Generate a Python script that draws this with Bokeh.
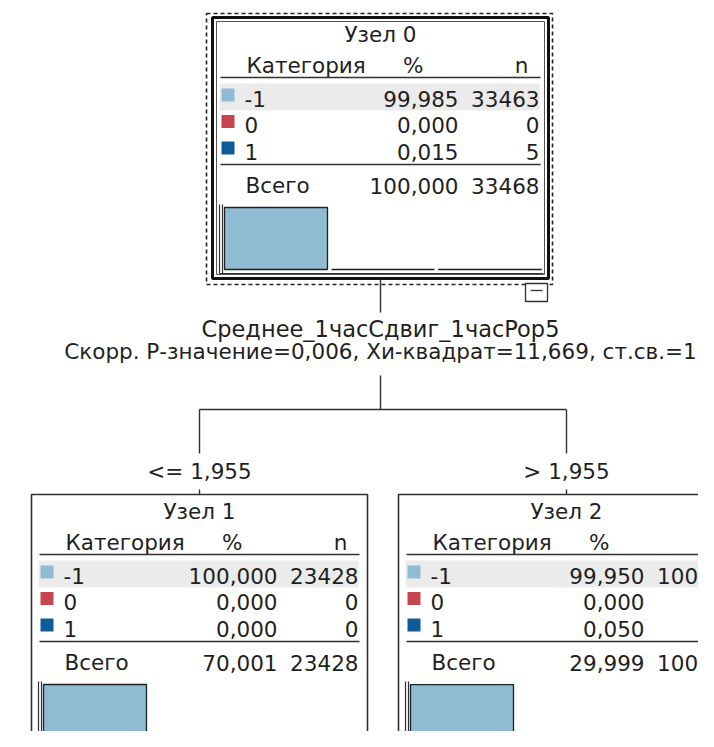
from bokeh.plotting import figure
from bokeh.models import Range1d, ColumnDataSource
from bokeh.embed import file_html
from bokeh.resources import INLINE
from bokeh.core.properties import value

# ---------------- data ----------------
categories = ["-1", "0", "1"]
category_colors = ["#8fbbd3", "#c4464e", "#0e5b97"]

node_names = ["Узел 0", "Узел 1", "Узел 2"]
node0_pct = [99.985, 0.000, 0.015]
node0_n = [33463, 0, 5]
node1_pct = [100.000, 0.000, 0.000]
node1_n = [23428, 0, 0]
node2_pct = [99.950, 0.000, 0.050]
node2_n = [10035, 0, 5]
total_pct = [100.000, 70.001, 29.999]
total_n = [33468, 23428, 10040]

header_labels = ["Категория", "%", "n"]
total_label = "Всего"
split_variable = "Среднее_1часСдвиг_1часPop5"
split_stats = "Скорр. Р-значение=0,006, Хи-квадрат=11,669, ст.св.=1"
split_labels = ["<= 1,955", "> 1,955"]

node_pcts = [node0_pct, node1_pct, node2_pct]
node_ns = [node0_n, node1_n, node2_n]

# ---------------- layout ----------------
FONT = value("DejaVu Sans")
FS = value("21.5px")
TXT = "#1f1f1f"
LINE = "#303030"
node_left = [212, 31, 398]
node_top = [17, 494, 494]
NW, NH = 336, 261
BAR_H = 62
SLOT = 107


def fmt(v):
    return f"{v:.3f}".replace(".", ",")


p = figure(width=698, height=731, output_backend="svg", toolbar_location=None,
           x_range=Range1d(0, 698), y_range=Range1d(731, 0),
           min_border=0, outline_line_color=None)
p.axis.visible = False
p.grid.visible = False
p.background_fill_color = "white"
p.border_fill_color = "white"


def add_text(xs, ys, texts, align="left", size=FS):
    src = ColumnDataSource(dict(x=xs, y=ys, t=texts))
    p.text("x", "y", text="t", source=src, text_font=FONT, text_font_size=size,
           text_color=TXT, text_align=align, text_baseline="middle")


for i in range(3):
    L, T = node_left[i], node_top[i]
    pct, ns = node_pcts[i], node_ns[i]
    # box
    if i == 0:
        p.quad(left=[L - 6], right=[L + NW + 4], top=[T - 4], bottom=[T + NH + 6],
               fill_color="white", line_color="#222222", line_width=1.6, line_dash="4 3")
        p.quad(left=[L], right=[L + NW], top=[T], bottom=[T + NH],
               fill_color="white", line_color="#111111", line_width=3)
        p.quad(left=[L + 4], right=[L + NW - 4], top=[T + 4], bottom=[T + NH - 4],
               fill_color=None, line_color="#555555", line_width=1)
    else:
        p.quad(left=[L], right=[L + NW], top=[T], bottom=[T + NH],
               fill_color="white", line_color=LINE, line_width=1.6)
    # row shading for first category
    p.quad(left=[L + 7], right=[L + 327], top=[T + 66], bottom=[T + 93],
           fill_color="#ebebeb", line_color=None)
    # title + header
    add_text([L + NW / 2], [T + 17], [node_names[i]], align="center")
    add_text([L + 34], [T + 48], [header_labels[0]])
    add_text([L + 211, L + 316], [T + 48, T + 48], header_labels[1:], align="right")
    p.segment(x0=[L + 8, L + 8], x1=[L + 328, L + 328], y0=[T + 60, T + 147],
              y1=[T + 60, T + 147], line_color=LINE, line_width=1.5)
    # category rows
    row_y = [T + 81 + 26.5 * k for k in range(3)]
    p.quad(left=[L + 9] * 3, right=[L + 22] * 3,
           top=[y - 10 for y in row_y], bottom=[y + 3 for y in row_y],
           fill_color=category_colors, line_color=None)
    add_text([L + 32] * 3, row_y, categories)
    add_text([L + 246] * 3, row_y, [fmt(v) for v in pct], align="right")
    add_text([L + 327] * 3, row_y, [str(v) for v in ns], align="right")
    # total row
    add_text([L + 33], [T + 168], [total_label])
    add_text([L + 246], [T + 168], [fmt(total_pct[i])], align="right")
    add_text([L + 327], [T + 168], [str(total_n[i])], align="right")
    # bar chart
    base = T + 252
    p.segment(x0=[L + 7, L + 10, L + 7], x1=[L + 7, L + 10, L + 331],
              y0=[T + 187, T + 187, base + 4], y1=[base + 4, base + 4, base + 4],
              line_color=LINE, line_width=1.2)
    lefts = [L + 12 + SLOT * k for k in range(3)]
    p.quad(left=lefts, right=[x + 103 for x in lefts],
           top=[base - BAR_H * v / 100 for v in pct], bottom=[base] * 3,
           fill_color=category_colors, line_color="#202020", line_width=1.3)

# collapse box on root
L0, T0 = node_left[0], node_top[0]
p.quad(left=[L0 + 313], right=[L0 + 335], top=[T0 + 266], bottom=[T0 + 284],
       fill_color="white", line_color=LINE, line_width=1.3)
p.segment(x0=[L0 + 318], x1=[L0 + 330], y0=[T0 + 273], y1=[T0 + 273],
          line_color=LINE, line_width=1.3)

# connectors
cx0 = L0 + NW / 2
cxs = [node_left[1] + NW / 2, node_left[2] + NW / 2]
hy = 409
p.segment(x0=[cx0, cx0, cxs[0], cxs[0], cxs[0], cxs[1], cxs[1]],
          x1=[cx0, cx0, cxs[1], cxs[0], cxs[0], cxs[1], cxs[1]],
          y0=[T0 + NH + 1, 375, hy, hy, 489, hy, 489],
          y1=[312, hy, hy, 453, node_top[1], 453, node_top[2]],
          line_color=LINE, line_width=1.4)

add_text([cx0], [328], [split_variable], align="center", size=value("22.5px"))
add_text([cx0], [351], [split_stats], align="center")
add_text(cxs, [471, 471], split_labels, align="center")

open("out.html", "w").write(file_html(p, INLINE))
